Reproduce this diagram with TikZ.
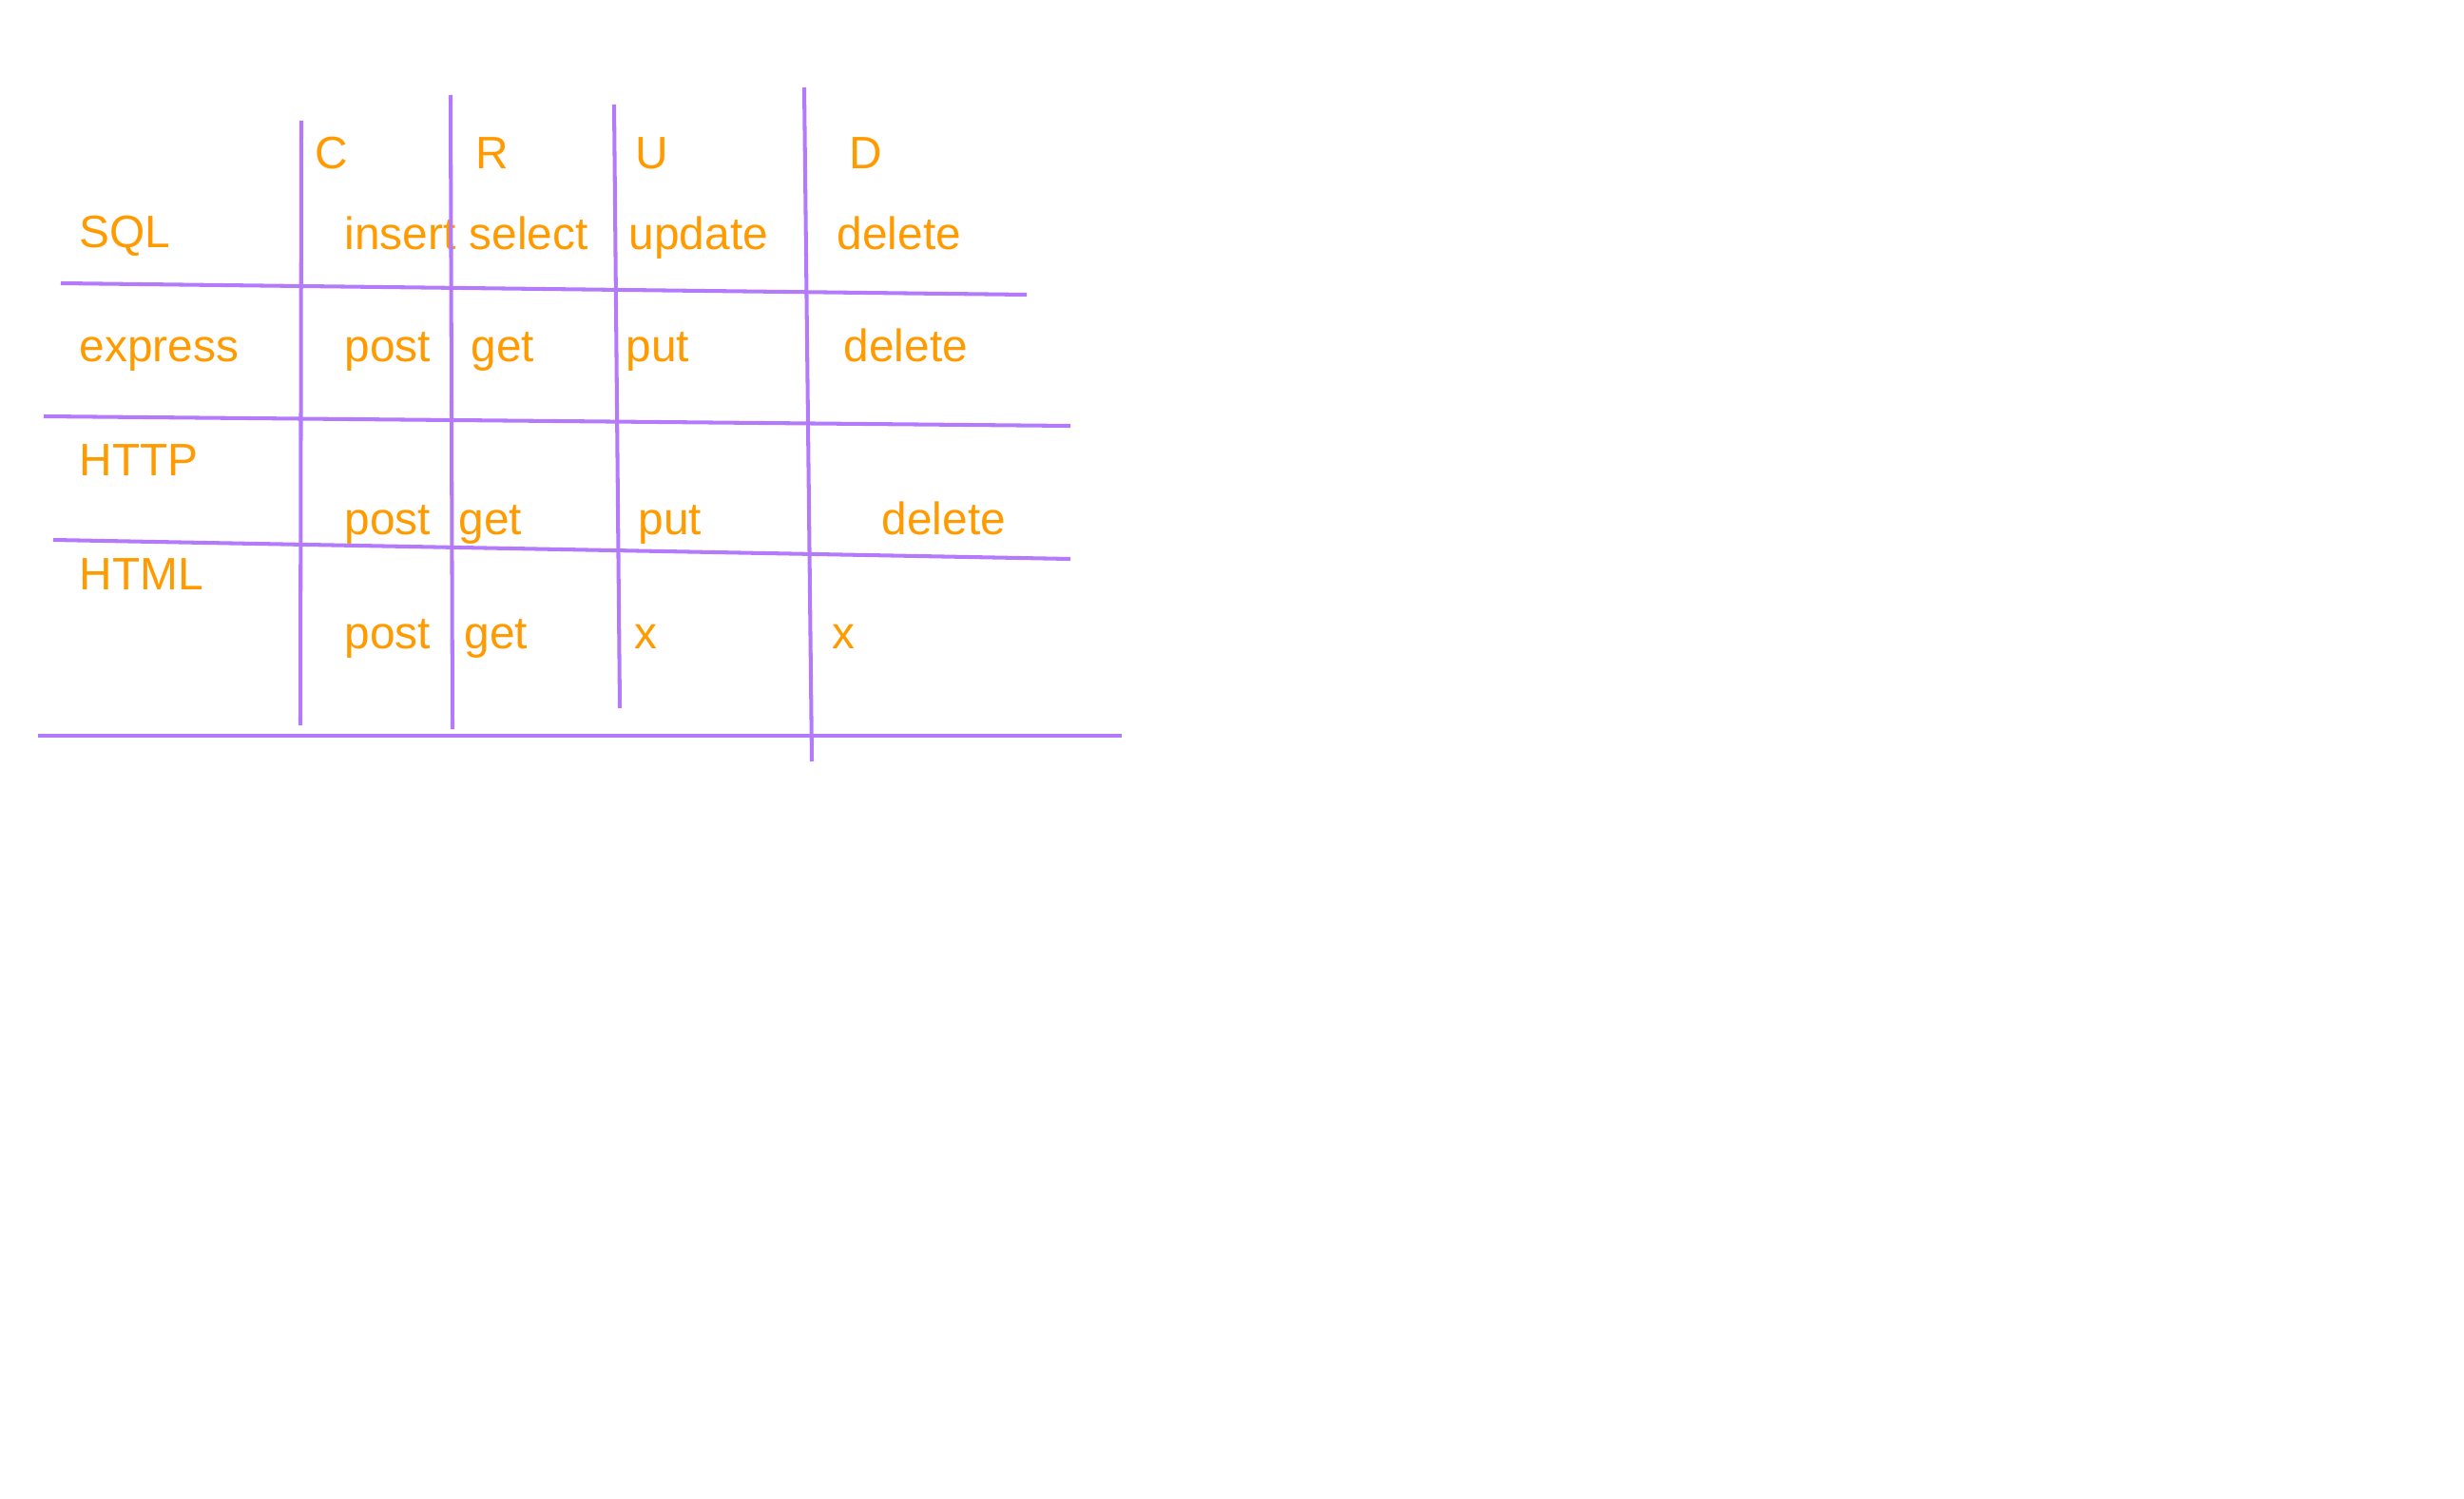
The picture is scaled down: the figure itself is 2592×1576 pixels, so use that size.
\documentclass[tikz,border=0pt]{standalone}
\usepackage{fontspec}
\setmainfont{Liberation Sans}
\usepackage{tikz}
\usetikzlibrary{positioning}
\definecolor{gridpurple}{RGB}{180,122,252}
\definecolor{textorange}{RGB}{255,155,0}

\begin{document}
\begin{tikzpicture}
[x=0.01cm,y=-0.01cm]
\tikzset{
	word/.style = {anchor = base west, inner sep = 0, text = textorange, font = \fontsize{13.6}{16}\selectfont},
	rule/.style = {draw = gridpurple, line width = 1.15pt}
}

\useasboundingbox (0,0) rectangle (2592,1576);

% column heads
\node(C) [word] at (331,178) {C};
\node(R) [word] at (500,178) {R};
\node(U) [word] at (668,178) {U};
\node(D) [word] at (893,178) {D};

% row heads
\node(sql) [word] at (83,260) {SQL};
\node(express) [word] at (83,380) {express};
\node(http) [word] at (83,500) {HTTP};
\node(html) [word] at (83,620) {HTML};

% SQL row
\node(sql-C) [word] at (362,262) {insert};
\node(sql-R) [word] at (493,262) {select};
\node(sql-U) [word] at (661,262) {update};
\node(sql-D) [word] at (880,262) {delete};

% express row
\node(express-C) [word] at (362,380) {post};
\node(express-R) [word] at (495,380) {get};
\node(express-U) [word] at (658,380) {put};
\node(express-D) [word] at (887,380) {delete};

% HTTP row
\node(http-C) [word] at (362,562) {post};
\node(http-R) [word] at (482,562) {get};
\node(http-U) [word] at (671,562) {put};
\node(http-D) [word] at (927,562) {delete};

% HTML row
\node(html-C) [word] at (362,682) {post};
\node(html-R) [word] at (488,682) {get};
\node(html-U) [word] at (667,682) {x};
\node(html-D) [word] at (875,682) {x};

% line ends
\coordinate (vC-top) at (317,127);
\coordinate (vC-bot) at (316,763);
\coordinate (vR-top) at (474,100);
\coordinate (vR-bot) at (476,767);
\coordinate (vU-top) at (646,110);
\coordinate (vU-bot) at (652,745);
\coordinate (vD-top) at (846,92);
\coordinate (vD-bot) at (854,801);
\coordinate (h1-l) at (64,298);
\coordinate (h1-r) at (1080,310);
\coordinate (h2-l) at (46,438);
\coordinate (h2-r) at (1126,448);
\coordinate (h3-l) at (56,568);
\coordinate (h3-r) at (1126,588);
\coordinate (h4-l) at (40,774);
\coordinate (h4-r) at (1180,774);

\draw [rule] (vC-top) -- (vC-bot);
\draw [rule] (vR-top) -- (vR-bot);
\draw [rule] (vU-top) -- (vU-bot);
\draw [rule] (vD-top) -- (vD-bot);

\draw [rule] (h1-l) -- (h1-r);
\draw [rule] (h2-l) -- (h2-r);
\draw [rule] (h3-l) -- (h3-r);
\draw [rule] (h4-l) -- (h4-r);
\end{tikzpicture}
\end{document}
